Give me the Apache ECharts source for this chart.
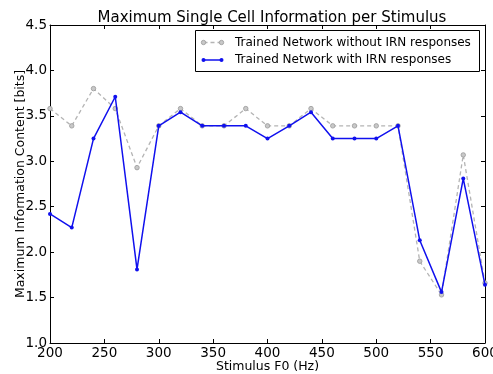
<!DOCTYPE html>
<html>
<head>
<meta charset="utf-8">
<script src="https://cdn.jsdelivr.net/npm/echarts@6/dist/echarts.min.js"></script>
<style>
  html, body { margin: 0; padding: 0; background: #fff; }
  #chart { width: 493px; height: 374px; }
</style>
</head>
<body>
<div id="chart"></div>
<script>
// Stimulus fundamental frequencies (Hz)
const stimulusF0 = [200, 220, 240, 260, 280, 300, 320, 340, 360, 380, 400,
                    420, 440, 460, 480, 500, 520, 540, 560, 580, 600];
// Maximum single-cell information (bits), network without IRN responses
const withoutIRN = [3.58, 3.39, 3.80, 3.58, 2.93, 3.39, 3.58, 3.39, 3.39, 3.58, 3.39,
                    3.39, 3.58, 3.39, 3.39, 3.39, 3.39, 1.90, 1.53, 3.07, 1.66];
// Maximum single-cell information (bits), network with IRN responses
const withIRN = [2.42, 2.27, 3.25, 3.71, 1.81, 3.39, 3.54, 3.39, 3.39, 3.39, 3.25,
                 3.39, 3.54, 3.25, 3.25, 3.25, 3.39, 2.13, 1.56, 2.81, 1.64];
const seriesNames = ['Trained Network without IRN responses', 'Trained Network with IRN responses'];
const titleText = 'Maximum Single Cell Information per Stimulus';
const xLabel = 'Stimulus F0 (Hz)';
const yLabel = 'Maximum Information Content [bits]';

const FONT = 'DejaVu Sans';
const GRID = { left: 50, right: 8, top: 25, bottom: 31 };
const GREY = '#b4b4b4';
const BLUE = '#1010ee';

const chart = echarts.init(document.getElementById('chart'), null, { renderer: 'canvas' });

const pairs = arr => stimulusF0.map((x, i) => [x, arr[i]]);

const baseX = {
  type: 'value', min: 200, max: 600, interval: 50,
  axisLine: { show: true, lineStyle: { color: '#000', width: 1 } },
  axisTick: { show: true, inside: true, length: 4, lineStyle: { color: '#000' } },
  splitLine: { show: false }
};
const baseY = {
  type: 'value', min: 1.0, max: 4.5, interval: 0.5,
  axisLine: { show: true, lineStyle: { color: '#000', width: 1 } },
  axisTick: { show: true, inside: true, length: 4, lineStyle: { color: '#000' } },
  splitLine: { show: false }
};

// legend box in the upper right corner of the plot
const lgX = 195.5, lgY = 30.5, lgW = 284, lgH = 41;
const legendFont = '12px "' + FONT + '"';
const legendGraphics = [
  { type: 'rect', shape: { x: lgX, y: lgY, width: lgW, height: lgH },
    style: { fill: '#fff', stroke: '#000', lineWidth: 1 }, z: 100 },
  { type: 'line', shape: { x1: lgX + 8, y1: lgY + 12, x2: lgX + 26, y2: lgY + 12 },
    style: { stroke: GREY, lineWidth: 1.3, lineDash: [4, 3] }, z: 101 },
  { type: 'circle', shape: { cx: lgX + 8, cy: lgY + 12, r: 2.2 },
    style: { fill: '#c8c8c8', stroke: '#999', lineWidth: 0.8 }, z: 102 },
  { type: 'circle', shape: { cx: lgX + 26, cy: lgY + 12, r: 2.2 },
    style: { fill: '#c8c8c8', stroke: '#999', lineWidth: 0.8 }, z: 102 },
  { type: 'text', style: { x: lgX + 39.5, y: lgY + 12, text: seriesNames[0],
    font: legendFont, fill: '#000', verticalAlign: 'middle' }, z: 102 },
  { type: 'line', shape: { x1: lgX + 8, y1: lgY + 29.5, x2: lgX + 26, y2: lgY + 29.5 },
    style: { stroke: BLUE, lineWidth: 1.5 }, z: 101 },
  { type: 'circle', shape: { cx: lgX + 8, cy: lgY + 29.5, r: 2 },
    style: { fill: BLUE }, z: 102 },
  { type: 'circle', shape: { cx: lgX + 26, cy: lgY + 29.5, r: 2 },
    style: { fill: BLUE }, z: 102 },
  { type: 'text', style: { x: lgX + 39.5, y: lgY + 29.5, text: seriesNames[1],
    font: legendFont, fill: '#000', verticalAlign: 'middle' }, z: 102 }
];

const option = {
  animation: false,
  backgroundColor: '#fff',
  textStyle: { fontFamily: FONT },
  title: {
    text: titleText, left: 267, top: 6, textAlign: 'center',
    textStyle: { fontFamily: FONT, fontSize: 15, fontWeight: 'normal', color: '#000' }
  },
  grid: Object.assign({ containLabel: false, outerBoundsMode: 'none' }, GRID),
  xAxis: [
    Object.assign({}, baseX, {
      position: 'bottom',
      axisLabel: { show: true, margin: 3, fontSize: 13.5, color: '#000', fontFamily: FONT },
      name: xLabel, nameLocation: 'middle', nameGap: 17, nameMoveOverlap: false,
      nameTextStyle: { fontSize: 12.5, color: '#000', fontFamily: FONT }
    }),
    Object.assign({}, baseX, { position: 'top', axisLabel: { show: false } })
  ],
  yAxis: [
    Object.assign({}, baseY, {
      position: 'left',
      axisLabel: { show: true, margin: 3, fontSize: 13.5, color: '#000', fontFamily: FONT,
                   formatter: v => v.toFixed(1) },
      name: yLabel, nameLocation: 'middle', nameGap: 23, nameRotate: 90, nameMoveOverlap: false,
      nameTextStyle: { fontSize: 12.5, color: '#000', fontFamily: FONT }
    }),
    Object.assign({}, baseY, { position: 'right', axisLabel: { show: false } })
  ],
  series: [
    {
      name: seriesNames[0], type: 'line', data: pairs(withoutIRN),
      xAxisIndex: 0, yAxisIndex: 0, clip: true,
      symbol: 'circle', symbolSize: 4.5,
      lineStyle: { color: GREY, width: 1.3, type: [4, 3] },
      itemStyle: { color: '#c8c8c8', borderColor: '#999', borderWidth: 0.8 },
      z: 2
    },
    {
      name: seriesNames[1], type: 'line', data: pairs(withIRN),
      xAxisIndex: 0, yAxisIndex: 0, clip: true,
      symbol: 'circle', symbolSize: 4,
      lineStyle: { color: BLUE, width: 1.5 },
      itemStyle: { color: BLUE, borderWidth: 0 },
      z: 3
    }
  ],
  graphic: legendGraphics
};

chart.setOption(option);
</script>
</body>
</html>
